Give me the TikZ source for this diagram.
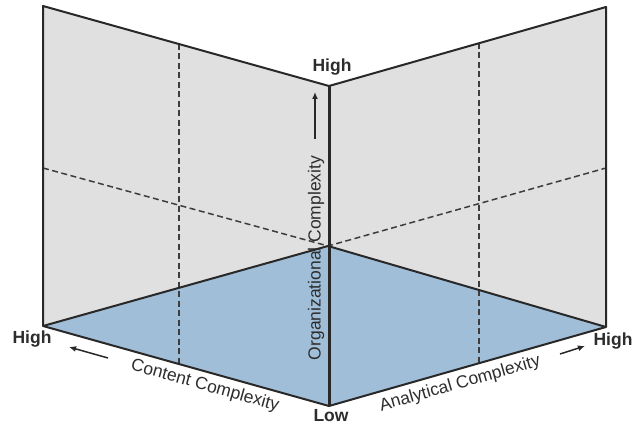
\documentclass[tikz,border=0pt]{standalone}
\usepackage{fontspec}
\setmainfont{Liberation Sans}
\usetikzlibrary{arrows.meta}
\definecolor{wallgrey}{RGB}{224,224,224}
\definecolor{floorblue}{RGB}{160,190,215}
\definecolor{edge}{RGB}{40,40,40}
\definecolor{txt}{RGB}{45,45,45}
\tikzset{
  outline/.style={draw=edge, line width=2pt, line join=round},
  gridline/.style={draw=edge!90, line width=1.5pt, dash pattern=on 6pt off 3.5pt},
  lbl/.style={text=txt, font=\fontsize{17.5}{20}\selectfont, inner sep=0pt},
  endlbl/.style={text=txt, font=\fontsize{17.5}{20}\selectfont\bfseries, inner sep=0pt},
  dirarrow/.style={draw=edge, line width=1.5pt, -{Latex[length=7pt,width=6pt]}}
}
\begin{document}
\begin{tikzpicture}[x=1pt,y=-1pt]
\useasboundingbox (0,0) rectangle (632,425);
% corners
\coordinate (LT) at (43,6);
\coordinate (LB) at (43,326);
\coordinate (CT) at (329,86);
\coordinate (CB) at (328,246);
\coordinate (F) at (329,406);
\coordinate (RT) at (606,7);
\coordinate (RB) at (606,327);
% fills
\fill[wallgrey] (LB) -- (LT) -- (CT) -- (RT) -- (RB) -- (CB) -- cycle;
\fill[floorblue] (LB) -- (CB) -- (RB) -- (F) -- cycle;
% grid lines
\coordinate (lv1) at (179,44);
\coordinate (lv2) at (179,364);
\coordinate (rv1) at (479,43);
\coordinate (rv2) at (479,363);
\coordinate (lh) at (43,168);
\coordinate (rh) at (606,168);
\draw[gridline] (lv1) -- (lv2);
\draw[gridline] (rv1) -- (rv2);
\draw[gridline] (lh) -- (CB) -- (rh);
% outlines
\draw[outline] (LB) -- (LT) -- (CT) -- (RT) -- (RB);
\draw[outline] (LB) -- (CB) -- (RB) -- (F) -- cycle;
\draw[draw=edge, line width=3pt] (CT) -- (F);
% labels
\node[endlbl] (hightop) at (332,67) {High};
\node[endlbl] (highleft) at (32,339) {High};
\node[endlbl] (highright) at (613,341) {High};
\node[endlbl] (low) at (331,416) {Low};
\node[lbl, rotate=90] (org) at (316,258) {Organizational Complexity};
\node[lbl, rotate=-15.6] (content) at (205,386) {Content Complexity};
\node[lbl, rotate=15.9] (analytical) at (460,384) {Analytical Complexity};
% arrows
\coordinate (ua1) at (315,139);
\coordinate (ua2) at (315,92);
\coordinate (la1) at (108,358);
\coordinate (la2) at (69,347);
\coordinate (ra1) at (560,354);
\coordinate (ra2) at (585,346);
\draw[dirarrow] (ua1) -- (ua2);
\draw[dirarrow] (la1) -- (la2);
\draw[dirarrow] (ra1) -- (ra2);
\end{tikzpicture}
\end{document}
